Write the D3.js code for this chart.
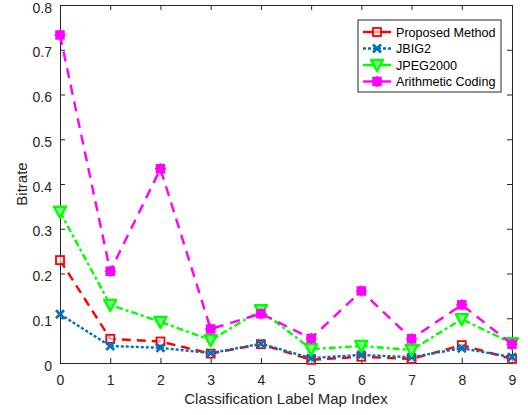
<!DOCTYPE html>
<html>
<head>
<meta charset="utf-8">
<script src="https://cdn.jsdelivr.net/npm/d3@7"></script>
<style>
  body { margin: 0; background: #fff; }
  text { font-family: "Liberation Sans", Arial, sans-serif; }
</style>
</head>
<body>
<div id="container"></div>
<script>
var indices = [0, 1, 2, 3, 4, 5, 6, 7, 8, 9];
var proposed = [0.23, 0.054, 0.048, 0.021, 0.042, 0.007, 0.014, 0.009, 0.04, 0.009];
var jbig2 = [0.109, 0.038, 0.034, 0.022, 0.043, 0.011, 0.018, 0.013, 0.033, 0.013];
var jpeg2000 = [0.338, 0.13, 0.092, 0.051, 0.118, 0.031, 0.038, 0.029, 0.098, 0.044];
var arithmetic = [0.733, 0.205, 0.434, 0.076, 0.11, 0.055, 0.161, 0.054, 0.13, 0.042];
var yTicks = [0, 0.1, 0.2, 0.3, 0.4, 0.5, 0.6, 0.7, 0.8];
var seriesNames = ["Proposed Method", "JBIG2", "JPEG2000", "Arithmetic Coding"];

(function() {
  var width = 528, height = 415;
  var plotLeft = 60, plotRight = 512, plotTop = 5, plotBottom = 363;

  var svg = d3.select("#container").append("svg")
    .attr("width", width)
    .attr("height", height);

  var xScale = d3.scaleLinear().domain([0, 9]).range([plotLeft, plotRight]);
  var yScale = d3.scaleLinear().domain([0, 0.8]).range([plotBottom, plotTop]);

  var axisColor = "#262626";

  // box + ticks
  var xAxis = d3.axisBottom(xScale).tickValues(indices).tickSize(-5).tickPadding(12).tickFormat(d3.format("d"));
  var yAxis = d3.axisLeft(yScale).tickValues(yTicks).tickSize(-5).tickPadding(8)
    .tickFormat(function(d){ return d === 0 ? "0" : d3.format(".1f")(d); });

  var gx = svg.append("g").attr("transform", "translate(0," + plotBottom + ")").call(xAxis);
  var gy = svg.append("g").attr("transform", "translate(" + plotLeft + ",0)").call(yAxis);
  var gxt = svg.append("g").attr("transform", "translate(0," + plotTop + ")")
    .call(d3.axisTop(xScale).tickValues(indices).tickSize(-5).tickFormat(""));
  var gyr = svg.append("g").attr("transform", "translate(" + plotRight + ",0)")
    .call(d3.axisRight(yScale).tickValues(yTicks).tickSize(-5).tickFormat(""));

  [gx, gy, gxt, gyr].forEach(function(g){
    g.select(".domain").attr("stroke", axisColor).attr("stroke-width", 1);
    g.selectAll(".tick line").attr("stroke", axisColor);
    g.selectAll(".tick text").attr("fill", axisColor).style("font-size", "14px");
  });
  gy.selectAll(".tick text").attr("dy", "0.5em");

  svg.append("text")
    .attr("x", (plotLeft + plotRight) / 2)
    .attr("y", 404)
    .attr("text-anchor", "middle")
    .attr("fill", axisColor)
    .style("font-size", "15px")
    .text("Classification Label Map Index");

  svg.append("text")
    .attr("transform", "rotate(-90)")
    .attr("x", -(plotTop + plotBottom) / 2)
    .attr("y", 27)
    .attr("text-anchor", "middle")
    .attr("fill", axisColor)
    .style("font-size", "15px")
    .text("Bitrate");

  var series = [
    { name: seriesNames[0], values: proposed, color: "#ff0000", dash: "9,6", marker: "square" },
    { name: seriesNames[1], values: jbig2, color: "#0072bd", dash: "3,2", marker: "x" },
    { name: seriesNames[2], values: jpeg2000, color: "#00ff00", dash: "7,3,3,3", marker: "tri" },
    { name: seriesNames[3], values: arithmetic, color: "#ff00ff", dash: "10,7", marker: "fsquare" }
  ];

  var line = d3.line()
    .x(function(d, i){ return xScale(indices[i]); })
    .y(function(d){ return yScale(d); });

  function drawMarker(g, type, color, x, y) {
    if (type === "square") {
      g.append("rect").attr("x", x - 4).attr("y", y - 4).attr("width", 8).attr("height", 8)
        .attr("fill", "#fff").attr("fill-opacity", 0.6).attr("stroke", color).attr("stroke-width", 1.8);
    } else if (type === "fsquare") {
      g.append("rect").attr("x", x - 4).attr("y", y - 4).attr("width", 8).attr("height", 8)
        .attr("fill", color).attr("stroke", color).attr("stroke-width", 1.5);
      g.append("path").attr("d", "M" + (x - 5.5) + "," + y + "H" + (x + 5.5) + "M" + x + "," + (y - 5.5) + "V" + (y + 5.5))
        .attr("stroke", color).attr("stroke-width", 1.5);
    } else if (type === "x") {
      g.append("path").attr("d", "M" + (x - 4) + "," + (y - 4) + "L" + (x + 4) + "," + (y + 4) + "M" + (x - 4) + "," + (y + 4) + "L" + (x + 4) + "," + (y - 4))
        .attr("stroke", color).attr("stroke-width", 2.6).attr("fill", "none");
    } else if (type === "tri") {
      g.append("path").attr("d", "M" + (x - 6) + "," + (y - 5) + "L" + (x + 6) + "," + (y - 5) + "L" + x + "," + (y + 6) + "Z")
        .attr("stroke", color).attr("stroke-width", 2.4).attr("fill", "#7fff7f").attr("stroke-linejoin", "round");
    }
  }

  series.forEach(function(s){
    var g = svg.append("g");
    g.append("path")
      .datum(s.values)
      .attr("d", line)
      .attr("fill", "none")
      .attr("stroke", s.color)
      .attr("stroke-width", 2.4)
      .attr("stroke-dasharray", s.dash);
    s.values.forEach(function(v, i){
      drawMarker(g, s.marker, s.color, xScale(indices[i]), yScale(v));
    });
  });

  // legend
  var lx = 358, ly = 20, lw = 143, lh = 72;
  var legend = svg.append("g");
  legend.append("rect").attr("x", lx).attr("y", ly).attr("width", lw).attr("height", lh)
    .attr("fill", "#fff").attr("stroke", axisColor).attr("stroke-width", 1);
  series.forEach(function(s, i){
    var yy = ly + 12 + i * 16.5;
    legend.append("path").attr("d", "M" + (lx + 5) + "," + yy + "H" + (lx + 33))
      .attr("stroke", s.color).attr("stroke-width", 2.4)
      .attr("stroke-dasharray", s.marker === "x" ? "3,2" : null);
    drawMarker(legend, s.marker, s.color, lx + 19, yy);
    legend.append("text").attr("x", lx + 38).attr("y", yy + 4.5)
      .attr("fill", "#000").style("font-size", "12.6px").text(s.name);
  });
})();
</script>
</body>
</html>
